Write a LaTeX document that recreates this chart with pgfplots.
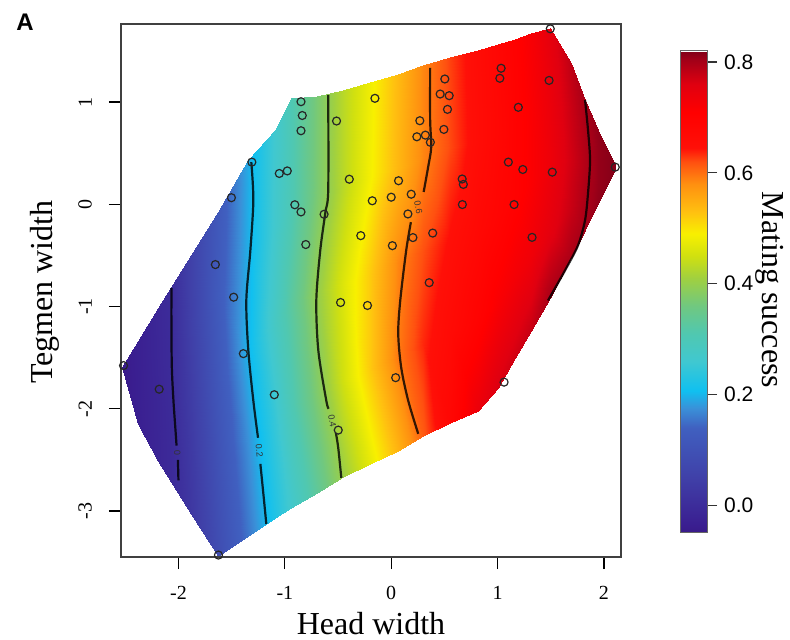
\documentclass[border=0pt]{standalone}
\usepackage{fontspec}
\setmainfont{Liberation Serif}
\newfontfamily\sansf{Liberation Sans}
\usepackage{pgfplots}
\pgfplotsset{compat=1.18}

\pgfplotsset{
  colormap={fit}{
    rgb255(0)=(56,26,136)
    rgb255(14)=(58,30,144)
    rgb255(100)=(64,64,168)
    rgb255(190)=(64,96,192)
    rgb255(225)=(58,144,216)
    rgb255(257)=(16,192,240)
    rgb255(310)=(64,200,208)
    rgb255(360)=(80,200,176)
    rgb255(410)=(112,200,128)
    rgb255(460)=(160,208,64)
    rgb255(500)=(208,224,16)
    rgb255(540)=(248,240,0)
    rgb255(580)=(255,192,16)
    rgb255(630)=(255,144,16)
    rgb255(670)=(255,80,16)
    rgb255(695)=(255,16,8)
    rgb255(760)=(255,0,0)
    rgb255(810)=(224,0,16)
    rgb255(855)=(160,0,24)
    rgb255(870)=(128,0,24)
  },
  contour line/.style={black, opacity=0.8, line width=1.1pt, smooth},
}
\tikzset{clabel/.style={font=\sansf\fontsize{4.5}{5}\selectfont, inner sep=0pt, text=black!80}}

\begin{document}
\begin{tikzpicture}
\useasboundingbox (-60.5pt,-41.5pt) rectangle (334.5pt,278.5pt);
\begin{axis}[
  at={(0pt,0pt)}, anchor=south west,
  scale only axis, width=250pt, height=266.5pt,
  xmin=-2.54, xmax=2.16, ymin=-3.45, ymax=1.763,
  axis on top, clip=false,
  axis line style={black!75, line width=0.6pt},
  tick pos=left, tick align=outside, major tick length=6pt,
  tick style={black, line width=0.6pt},
  xtick={-2,-1,0,1,2}, xticklabels={-2,-1,0,1,2},
  ytick={-3,-2,-1,0,1}, yticklabels={-3,-2,-1,0,1},
  ticklabel style={font=\fontsize{10}{12}\selectfont},
  xticklabel style={yshift=-5pt},
  yticklabel style={xshift=-5pt, rotate=90, anchor=south},
  xlabel={Head width}, ylabel={Tegmen width},
  label style={font=\fontsize{16}{19}\selectfont},
  xlabel style={at={(axis description cs:0.5,-0.146)}, anchor=base},
  ylabel style={at={(axis description cs:-0.136,0.497)}, anchor=base},
  colormap name=fit,
  point meta min=-0.05, point meta max=0.82,
  colorbar,
  colorbar style={
    at={(parent axis.north east)}, anchor=north west,
    xshift=21pt, yshift=-13.5pt,
    scale only axis, width=13.5pt, height=241pt,
    ytick={0,0.2,0.4,0.6,0.8}, yticklabels={0.0,0.2,0.4,0.6,0.8},
    ytick pos=right, yticklabel pos=right,
    tick align=outside, major tick length=5pt,
    tick style={black!80, line width=0.6pt},
    yticklabel style={font=\sansf\fontsize{10.5}{12}\selectfont},
    axis line style={black!60, line width=0.5pt},
  },
]
% fitted surface over the convex hull of the data (columns of constant head width)
\addplot[surf, shader=interp, mesh/cols=5, point meta=explicit] table[x=x, y=y, meta=f] {
x y f
-2.526 -1.588 -0.046
-2.526 -1.588 -0.046
-2.526 -1.588 -0.046
-2.526 -1.588 -0.046
-2.526 -1.588 -0.046
-2.376 -2.147 -0.033
-2.376 -1.944 -0.032
-2.376 -1.742 -0.032
-2.376 -1.539 -0.031
-2.376 -1.336 -0.031
-2.188 -2.510 -0.017
-2.188 -2.137 -0.016
-2.188 -1.765 -0.015
-2.188 -1.392 -0.013
-2.188 -1.019 -0.012
-2.066 -2.714 -0.006
-2.066 -2.239 -0.005
-2.066 -1.764 -0.003
-2.066 -1.289 -0.002
-2.066 -0.814 0.000
-1.878 -3.029 0.028
-1.878 -2.397 0.034
-1.878 -1.765 0.042
-1.878 -1.132 0.051
-1.878 -0.500 0.053
-1.624 -3.441 0.085
-1.624 -2.600 0.098
-1.624 -1.759 0.113
-1.624 -0.917 0.125
-1.624 -0.076 0.119
-1.343 -3.245 0.156
-1.343 -2.326 0.175
-1.343 -1.407 0.200
-1.343 -0.488 0.196
-1.343 0.431 0.193
-1.089 -3.068 0.225
-1.089 -2.120 0.249
-1.089 -1.172 0.281
-1.089 -0.225 0.266
-1.089 0.725 0.263
-0.939 -2.973 0.266
-0.939 -1.970 0.302
-0.939 -0.967 0.328
-0.939 0.036 0.303
-0.939 1.039 0.305
-0.700 -2.822 0.334
-0.700 -1.852 0.376
-0.700 -0.882 0.400
-0.700 0.088 0.371
-0.700 1.058 0.370
-0.450 -2.667 0.405
-0.450 -1.722 0.451
-0.450 -0.777 0.463
-0.450 0.168 0.431
-0.450 1.113 0.430
-0.200 -2.543 0.472
-0.200 -1.608 0.522
-0.200 -0.672 0.521
-0.200 0.264 0.486
-0.200 1.199 0.482
0.066 -2.412 0.543
0.066 -1.490 0.595
0.066 -0.568 0.586
0.066 0.354 0.540
0.066 1.276 0.537
0.300 -2.271 0.613
0.300 -1.363 0.636
0.300 -0.455 0.620
0.300 0.453 0.587
0.300 1.360 0.586
0.550 -2.138 0.682
0.550 -1.243 0.667
0.550 -0.348 0.648
0.550 0.546 0.623
0.550 1.441 0.626
0.817 -2.020 0.742
0.817 -1.137 0.698
0.817 -0.253 0.674
0.817 0.630 0.658
0.817 1.513 0.661
1.005 -1.794 0.765
1.005 -0.955 0.719
1.005 -0.115 0.689
1.005 0.724 0.679
1.005 1.563 0.683
1.164 -1.500 0.771
1.164 -0.722 0.728
1.164 0.057 0.701
1.164 0.836 0.699
1.164 1.614 0.703
1.315 -1.238 0.778
1.315 -0.510 0.734
1.315 0.219 0.716
1.315 0.947 0.717
1.315 1.676 0.723
1.493 -0.917 0.800
1.493 -0.257 0.752
1.493 0.404 0.737
1.493 1.064 0.742
1.493 1.725 0.752
1.690 -0.526 0.798
1.690 -0.049 0.777
1.690 0.428 0.770
1.690 0.905 0.775
1.690 1.382 0.784
1.822 -0.250 0.802
1.822 0.068 0.796
1.822 0.385 0.792
1.822 0.703 0.795
1.822 1.020 0.800
1.944 0.010 0.812
1.944 0.189 0.810
1.944 0.368 0.810
1.944 0.546 0.810
1.944 0.725 0.812
2.113 0.363 0.818
2.113 0.363 0.818
2.113 0.363 0.818
2.113 0.363 0.818
2.113 0.363 0.818
};

% contour lines (levels 0, 0.2, 0.4, 0.6, 0.8)
\addplot[contour line] coordinates {(-2.066,-0.82) (-2.066,-1.20) (-2.062,-1.60) (-2.047,-1.92) (-2.025,-2.25) (-2.018,-2.36)};
\addplot[contour line] coordinates {(-2.005,-2.50) (-2.000,-2.70)};
\addplot[contour line] coordinates {(-1.315,0.412) (-1.296,0.039) (-1.324,-0.451) (-1.362,-0.941) (-1.343,-1.431) (-1.296,-1.922) (-1.252,-2.284)};
\addplot[contour line] coordinates {(-1.230,-2.539) (-1.200,-2.850) (-1.174,-3.127)};
\addplot[contour line] coordinates {(-0.592,1.069) (-0.592,0.137) (-0.620,-0.088) (-0.667,-0.451) (-0.704,-0.941) (-0.685,-1.431) (-0.610,-1.922) (-0.588,-2.000)};
\addplot[contour line] coordinates {(-0.520,-2.236) (-0.498,-2.382) (-0.469,-2.676)};
\addplot[contour line] coordinates {(0.366,1.333) (0.366,0.824) (0.376,0.559) (0.347,0.363) (0.305,0.120)};
\addplot[contour line] coordinates {(0.185,-0.175) (0.141,-0.451) (0.085,-0.941) (0.066,-1.265) (0.094,-1.598) (0.160,-1.922) (0.254,-2.245)};
\addplot[contour line] coordinates {(1.822,1.020) (1.850,0.725) (1.869,0.431) (1.850,0.108) (1.822,-0.157) (1.756,-0.402) (1.634,-0.647) (1.474,-0.941)};

\node[clabel, rotate=-88] at (axis cs:-2.010,-2.428) {0};
\node[clabel, rotate=-84] at (axis cs:-1.240,-2.410) {0.2};
\node[clabel, rotate=-80] at (axis cs:-0.554,-2.118) {0.4};
\node[clabel, rotate=-80] at (axis cs:0.255,-0.030) {0.6};

% observations
\addplot[only marks, mark=o, mark size=2pt, mark options={black!85, line width=0.6pt}] coordinates {
(-0.848,1.003) (-0.836,0.868) (-0.848,0.719) (-0.514,0.814) (-1.310,0.412)
(-1.052,0.301) (-0.977,0.326) (-0.394,0.245) (-1.502,0.064) (-0.906,-0.005)
(-0.848,-0.075) (-0.631,-0.098) (-0.153,1.036) (-0.178,0.034) (0.000,0.069)
(0.069,0.230) (0.188,0.098) (0.157,-0.095) (-0.286,-0.307) (0.011,-0.405)
(-0.803,-0.394) (-1.653,-0.590) (-1.481,-0.909) (-0.476,-0.961) (-0.223,-0.990)
(0.504,1.225) (0.460,1.078) (0.545,1.062) (0.529,0.928) (0.269,0.817)
(0.495,0.732) (0.241,0.660) (0.321,0.676) (0.368,0.606) (1.033,1.330)
(1.021,1.232) (1.484,1.211) (1.195,0.948) (1.495,1.716) (2.106,0.363)
(1.101,0.412) (1.237,0.340) (1.514,0.314) (0.667,0.247) (0.678,0.194)
(0.669,-0.003) (1.155,-0.003) (0.204,-0.326) (0.390,-0.282) (1.324,-0.324)
(0.357,-0.767) (0.042,-1.696) (1.061,-1.740) (-1.390,-1.461) (-2.181,-1.809)
(-2.516,-1.578) (-1.099,-1.863) (-0.498,-2.209) (-1.624,-3.431)
};
\end{axis}
\node[font=\sansf\bfseries\fontsize{12}{14}\selectfont] at (-48pt,267.5pt) {A};
\node[rotate=-90, font=\fontsize{16}{19}\selectfont] at (324.5pt,133.5pt) {Mating success};
\end{tikzpicture}
\end{document}
